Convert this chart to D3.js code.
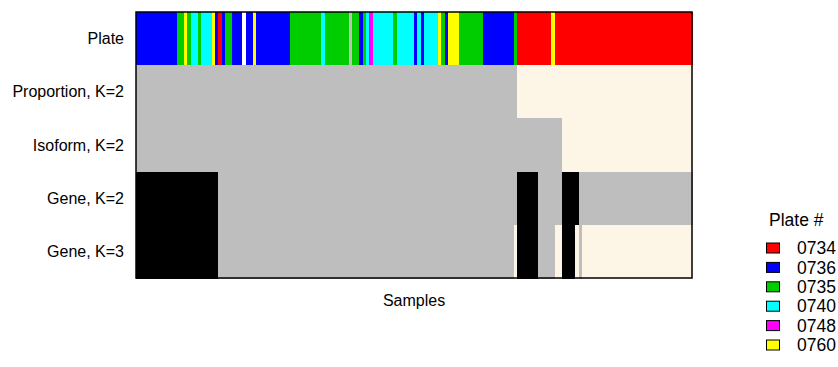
<!DOCTYPE html>
<html>
<head>
<meta charset="utf-8">
<script src="https://cdn.jsdelivr.net/npm/d3@7"></script>
<style>
  body { margin: 0; background: #fff; }
  text { font-family: "Liberation Sans", Arial, sans-serif; fill: #000; }
</style>
</head>
<body>
<div id="chart"></div>
<script>
// rows of the heatmap, top to bottom
const rowLabels = ['Plate', 'Proportion, K=2', 'Isoform, K=2', 'Gene, K=2', 'Gene, K=3'];

// plate of each sample, as runs [plate, count] read left to right
const plateRuns = [
  ['0736', 12], ['0735', 2], ['0760', 1], ['0735', 1], ['0740', 2], ['0735', 1],
  ['0740', 3], ['0760', 1], ['0736', 1], ['0734', 1], ['0736', 1], ['0735', 2],
  ['0736', 3], ['other', 1], ['0736', 2], ['0760', 1], ['0736', 10], ['0735', 9],
  ['0740', 1], ['0735', 7], ['NA', 1], ['0735', 2], ['0736', 1], ['0735', 1],
  ['0740', 1], ['0748', 1], ['0740', 6], ['0735', 1], ['0740', 5], ['0736', 1],
  ['0740', 1], ['0736', 1], ['0740', 4], ['0760', 1], ['0735', 1], ['0736', 1],
  ['0760', 3], ['0735', 7], ['0736', 9], ['0735', 1], ['0734', 10], ['0760', 1],
  ['0734', 40]
];
// cluster of each sample (1 = black, 2 = grey, 3 = cream), as runs
const proportionK2Runs = [[2, 111], [3, 51]];
const isoformK2Runs = [[2, 124], [3, 38]];
const geneK2Runs = [[1, 24], [2, 87], [1, 6], [2, 7], [1, 5], [2, 33]];
const geneK3Runs = [[1, 24], [2, 86], [3, 1], [1, 6], [2, 5], [3, 2], [1, 4], [3, 1], [2, 1], [3, 32]];

const legendPlates = ['0734', '0736', '0735', '0740', '0748', '0760'];
const plateColors = {
  '0734': '#ff0000', '0736': '#0000ff', '0735': '#00cd00',
  '0740': '#00ffff', '0748': '#ff00ff', '0760': '#ffff00',
  'other': '#ffffff', 'NA': '#bebebe'
};
const clusterColors = { 1: '#000000', 2: '#bebebe', 3: '#fdf5e6' };

const expand = runs => runs.flatMap(([v, n]) => Array(n).fill(v));

const rows = [
  expand(plateRuns).map(p => plateColors[p]),
  expand(proportionK2Runs).map(c => clusterColors[c]),
  expand(isoformK2Runs).map(c => clusterColors[c]),
  expand(geneK2Runs).map(c => clusterColors[c]),
  expand(geneK3Runs).map(c => clusterColors[c])
];
const nSamples = rows[0].length;

const width = 838, height = 367;
const plot = { left: 136, right: 692, top: 12, bottom: 278 };

const svg = d3.select('#chart').append('svg')
  .attr('width', width).attr('height', height);

const x = d3.scaleBand().domain(d3.range(nSamples)).range([plot.left, plot.right]).padding(0);
const y = d3.scaleBand().domain(rowLabels).range([plot.top, plot.bottom]).padding(0);

// cells
const rowG = svg.selectAll('g.row').data(rows).enter().append('g')
  .attr('class', 'row')
  .attr('transform', (d, i) => `translate(0,${y(rowLabels[i])})`);
rowG.selectAll('rect').data(d => d).enter().append('rect')
  .attr('x', (d, i) => x(i))
  .attr('width', x.bandwidth() + 0.5)
  .attr('height', y.bandwidth() + 0.5)
  .attr('fill', d => d)
  .attr('shape-rendering', 'crispEdges');

// frame
svg.append('rect')
  .attr('x', plot.left).attr('y', plot.top)
  .attr('width', plot.right - plot.left).attr('height', plot.bottom - plot.top)
  .attr('fill', 'none').attr('stroke', '#000').attr('stroke-width', 1.5);

// row labels
svg.selectAll('text.rowlab').data(rowLabels).enter().append('text')
  .attr('class', 'rowlab')
  .attr('x', plot.left - 12)
  .attr('y', d => y(d) + y.bandwidth() / 2)
  .attr('dy', '0.35em')
  .attr('text-anchor', 'end')
  .style('font-size', '16px')
  .text(d => d);

svg.append('text')
  .attr('x', (plot.left + plot.right) / 2).attr('y', 300)
  .attr('dy', '0.35em').attr('text-anchor', 'middle')
  .style('font-size', '16px').text('Samples');

// legend
const legend = svg.append('g').attr('transform', 'translate(766,0)');
legend.append('text').attr('x', 3).attr('y', 220).attr('dy', '0.35em')
  .style('font-size', '17.5px').text('Plate #');
const ly = d3.scalePoint().domain(legendPlates).range([248, 345]);
const li = legend.selectAll('g.item').data(legendPlates).enter().append('g')
  .attr('class', 'item').attr('transform', d => `translate(0,${ly(d)})`);
li.append('rect').attr('x', 0.5).attr('y', -5).attr('width', 13).attr('height', 10)
  .attr('fill', d => plateColors[d]).attr('stroke', '#000').attr('stroke-width', 1);
li.append('text').attr('x', 31).attr('dy', '0.35em')
  .style('font-size', '17.5px').text(d => d);
</script>
</body>
</html>
